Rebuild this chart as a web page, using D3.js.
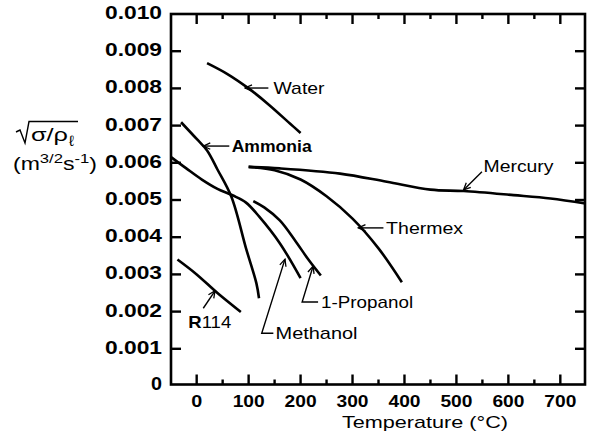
<!DOCTYPE html>
<html>
<head>
<meta charset="utf-8">
<script src="https://cdn.jsdelivr.net/npm/d3@7"></script>
<style>
  html, body { margin: 0; padding: 0; background: #fff; }
  svg { display: block; }
  text { font-family: "Liberation Sans", Arial, Helvetica, sans-serif; fill: #000; }
</style>
</head>
<body>
<svg id="chart" width="596" height="434"></svg>
<script>
// ---------------- data ----------------
const xMajorTicks = [0, 100, 200, 300, 400, 500, 600, 700];
const xMinorTicks = [50, 150, 250, 350, 450, 550, 650];
const yTicks = [0, 0.001, 0.002, 0.003, 0.004, 0.005, 0.006, 0.007, 0.008, 0.009, 0.010];
const yTickLabels = ["0", "0.001", "0.002", "0.003", "0.004", "0.005", "0.006", "0.007", "0.008", "0.009", "0.010"];

const waterT = [20, 60, 100, 140, 180, 200];
const waterV = [0.00868, 0.00838, 0.00800, 0.00755, 0.00705, 0.00680];

const ammoniaT = [-30, 0, 20, 40, 67, 95, 115, 120];
const ammoniaV = [0.00709, 0.00664, 0.00633, 0.00582, 0.00508, 0.00370, 0.00276, 0.00236];

const methanolT = [-50, -20, 10, 40, 70, 95, 120, 160, 200];
const methanolV = [0.00616, 0.00585, 0.00555, 0.00530, 0.00512, 0.00493, 0.00456, 0.00384, 0.00290];

const propanolT = [109, 130, 160, 190, 215, 239];
const propanolV = [0.00497, 0.00480, 0.00445, 0.00390, 0.00340, 0.00297];

const thermexT = [100, 150, 200, 250, 300, 350, 395];
const thermexV = [0.00589, 0.00580, 0.00555, 0.00510, 0.00450, 0.00370, 0.00279];

const mercuryT = [100, 160, 276, 366, 450, 514, 610, 681, 748];
const mercuryV = [0.00589, 0.00585, 0.00571, 0.00549, 0.00528, 0.00524, 0.00513, 0.00504, 0.00491];

const r114T = [-37, 0, 40, 85];
const r114V = [0.00340, 0.00300, 0.00250, 0.00199];

const seriesNames = ["Water", "Ammonia", "Methanol", "1-Propanol", "Thermex", "Mercury", "R114"];

// annotation anchors in data units: tip, (corner), tail, text position
const annotations = [
  { name: "Water",      pts: [[93, 0.00801], [138, 0.00801]],                       text: [148, 0.00801], w: 51 },
  { name: "Ammonia",    pts: [[12.7, 0.00645], [62.8, 0.00645]],                    text: [67.4, 0.00645], w: 80, bold: true },
  { name: "Mercury",    pts: [[513.7, 0.00527], [549.1, 0.00576]],                  text: [552.2, 0.00591], w: 70 },
  { name: "Thermex",    pts: [[311.4, 0.00425], [359.5, 0.00425]],                  text: [364.7, 0.00426], w: 77 },
  { name: "1-Propanol", pts: [[224, 0.00322], [203, 0.00226], [233.7, 0.00226]],    text: [239.5, 0.00226], w: 92 },
  { name: "Methanol",   pts: [[170, 0.00341], [125.2, 0.00142], [147.6, 0.00142]],  text: [151.8, 0.00142], w: 82 },
  { name: "R114",       pts: [[35.3, 0.00256], [12.7, 0.00209]],                    text: [-16.2, 0.00173], w: 43, boldFirst: true }
];

// ---------------- chart ----------------
const svg = d3.select("#chart");
const x = d3.scaleLinear().domain([-50, 750]).range([170.7, 586.3]);
const y = d3.scaleLinear().domain([0, 0.010]).range([386, 14]);
const frame = { left: 171, right: 585, top: 14, bottom: 384.5 };

function stretchText(sel, width) {
  sel.attr("textLength", width).attr("lengthAdjust", "spacingAndGlyphs");
}

// curves
const line = d3.line().x(d => x(d[0])).y(d => y(d[1])).curve(d3.curveCatmullRom.alpha(0.5));
const series = [
  [waterT, waterV], [ammoniaT, ammoniaV], [methanolT, methanolV], [propanolT, propanolV],
  [thermexT, thermexV], [mercuryT, mercuryV], [r114T, r114V]
];
svg.append("g").selectAll("path").data(series).join("path")
  .attr("d", s => line(s[0].map((t, i) => [t, s[1][i]])))
  .attr("fill", "none").attr("stroke", "#000").attr("stroke-width", 2.6)
  .attr("stroke-linecap", "butt").attr("stroke-linejoin", "round");

// frame
svg.append("rect")
  .attr("x", frame.left).attr("y", frame.top)
  .attr("width", frame.right - frame.left).attr("height", frame.bottom - frame.top)
  .attr("fill", "none").attr("stroke", "#000").attr("stroke-width", 2.6);

// ticks
const tk = svg.append("g").attr("stroke", "#000").attr("stroke-width", 2.4);
xMajorTicks.forEach(t => {
  tk.append("line").attr("x1", x(t)).attr("x2", x(t)).attr("y1", frame.bottom).attr("y2", frame.bottom - 10);
  tk.append("line").attr("x1", x(t)).attr("x2", x(t)).attr("y1", frame.top).attr("y2", frame.top + 10);
});
xMinorTicks.forEach(t => {
  tk.append("line").attr("x1", x(t)).attr("x2", x(t)).attr("y1", frame.bottom).attr("y2", frame.bottom - 5);
  tk.append("line").attr("x1", x(t)).attr("x2", x(t)).attr("y1", frame.top).attr("y2", frame.top + 5);
});
yTicks.slice(1, -1).forEach(v => {
  tk.append("line").attr("x1", frame.left).attr("x2", frame.left + 10).attr("y1", y(v)).attr("y2", y(v));
  tk.append("line").attr("x1", frame.right).attr("x2", frame.right - 10).attr("y1", y(v)).attr("y2", y(v));
});

// x tick labels
xMajorTicks.forEach(t => {
  const s = String(t);
  svg.append("text").attr("x", x(t)).attr("y", 407).attr("text-anchor", "middle")
    .attr("font-size", 16).attr("font-weight", "bold").text(s)
    .call(stretchText, s.length === 1 ? 11 : 32);
});
// y tick labels
yTicks.forEach((v, i) => {
  const s = yTickLabels[i];
  const yy = Math.min(y(v), frame.bottom) - 1.5;
  svg.append("text").attr("x", 162).attr("y", yy + 6.5).attr("text-anchor", "end")
    .attr("font-size", 17.5).attr("font-weight", "bold").text(s)
    .call(stretchText, s.length === 1 ? 11 : 57);
});

// axis titles
svg.append("text").attr("x", 425).attr("y", 428).attr("text-anchor", "middle")
  .attr("font-size", 17).text("Temperature (°C)").call(stretchText, 166);

// y title: sqrt(sigma/rho_l)
const yt = svg.append("g");
yt.append("path").attr("d", "M16,132 L20,130 L25,143 L29,121.5 L78,121.5")
  .attr("fill", "none").attr("stroke", "#000").attr("stroke-width", 1.4).attr("stroke-linejoin", "miter");
yt.append("text").attr("x", 31).attr("y", 141).attr("font-size", 19).text("σ/ρ").call(stretchText, 37);
yt.append("text").attr("x", 69).attr("y", 146).attr("font-size", 15).text("ℓ");
const unit = yt.append("text").attr("x", 13).attr("y", 170).attr("font-size", 18);
unit.append("tspan").text("(m");
unit.append("tspan").attr("font-size", 13).attr("dy", -7).text("3/2");
unit.append("tspan").attr("dy", 7).text("s");
unit.append("tspan").attr("font-size", 13).attr("dy", -7).text("-1");
unit.append("tspan").attr("dy", 7).text(")");
unit.call(stretchText, 84);

// arrows
svg.append("defs").append("marker")
  .attr("id", "arr").attr("viewBox", "-1 -5 10 10").attr("refX", 0).attr("refY", 0)
  .attr("markerWidth", 10).attr("markerHeight", 10).attr("markerUnits", "userSpaceOnUse")
  .attr("orient", "auto")
  .append("path").attr("d", "M7,-3.2 L0,0 L7,3.2").attr("fill", "none").attr("stroke", "#000").attr("stroke-width", 1.3);

const lead = d3.line().x(d => x(d[0])).y(d => y(d[1]));
annotations.forEach(a => {
  svg.append("path").attr("d", lead(a.pts)).attr("fill", "none").attr("stroke", "#000")
    .attr("stroke-width", 1.4).attr("marker-start", "url(#arr)");
  const t = svg.append("text").attr("x", x(a.text[0])).attr("y", y(a.text[1]) + 6.2)
    .attr("font-size", 17).attr("font-weight", a.bold ? "bold" : "normal");
  if (a.boldFirst) {
    t.append("tspan").attr("font-weight", "bold").text(a.name.slice(0, 1));
    t.append("tspan").text(a.name.slice(1));
  } else {
    t.text(a.name);
  }
  t.call(stretchText, a.w);
});
</script>
</body>
</html>
